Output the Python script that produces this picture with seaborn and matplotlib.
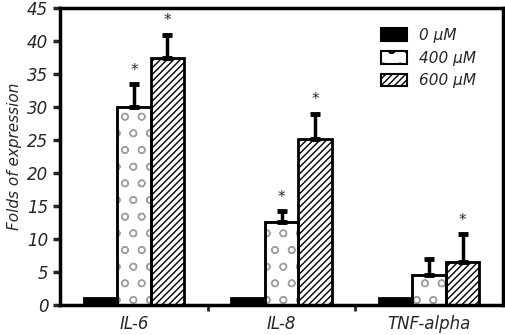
import pandas as pd
import matplotlib.pyplot as plt
import seaborn as sns

sns.set_style("white")
plt.rcParams["font.family"] = ["DejaVu Sans"]
plt.rcParams["hatch.linewidth"] = 1.0

genes = ["IL-6", "IL-8", "TNF-alpha"]
doses = ["0 \u03bcM", "400 \u03bcM", "600 \u03bcM"]
vals_0 = [1.0, 1.0, 1.0]
vals_400 = [30.0, 12.5, 4.5]
vals_600 = [37.5, 25.2, 6.5]
err_0 = [0.0, 0.0, 0.0]
err_400 = [3.5, 1.7, 2.5]
err_600 = [3.5, 3.8, 4.2]
signif_400 = [True, True, False]
signif_600 = [True, True, True]


def main():
    df = pd.DataFrame({
        "gene": genes * 3,
        "dose": [d for d in doses for _ in genes],
        "value": vals_0 + vals_400 + vals_600,
        "err": err_0 + err_400 + err_600,
        "sig": [False] * 3 + signif_400 + signif_600,
    })

    fig = plt.figure(figsize=(5.06, 3.35), dpi=100)
    ax = fig.add_axes([0.119, 0.09, 0.875, 0.885])

    sns.barplot(data=df, x="gene", y="value", hue="dose", order=genes,
                hue_order=doses, palette=["black", "white", "white"],
                edgecolor="black", linewidth=2, width=0.68, errorbar=None,
                saturation=1, ax=ax)

    bar_conts = list(ax.containers)
    hatches = ["", "o", "/////"]
    for i, cont in enumerate(bar_conts):
        for j, p in enumerate(cont.patches):
            p.set_hatch(hatches[i])
            row = df[(df["dose"] == doses[i]) & (df["gene"] == genes[j])].iloc[0]
            xc = p.get_x() + p.get_width() / 2
            top = p.get_height()
            if row["err"] > 0:
                ax.errorbar(xc, top, yerr=[[0], [row["err"]]], fmt="none",
                            ecolor="black", elinewidth=2.5, capsize=3.5,
                            capthick=3.5, zorder=3)
            if row["sig"]:
                ax.text(xc, top + row["err"] + 1.0, "*", ha="center",
                        va="bottom", fontsize=11)
    # lighter circles on the 400 uM bars, black outline on top
    for p in bar_conts[1].patches:
        p.set_edgecolor("#a0a0a0")
        ax.add_patch(plt.Rectangle((p.get_x(), 0), p.get_width(), p.get_height(),
                                   fill=False, edgecolor="black", linewidth=2,
                                   zorder=2.5))

    ax.set_xlim(-0.5, 2.5)
    ax.set_ylim(0, 45)
    ax.set_yticks(range(0, 46, 5))
    ax.set_xticks([0.5, 1.5])
    ax.set_xticklabels([])
    for j, g in enumerate(genes):
        ax.text(j, -1.6, g, ha="center", va="top", fontsize=12, style="italic")
    ax.tick_params(axis="y", direction="out", length=5, width=2.5,
                   labelsize=12, left=True)
    ax.tick_params(axis="x", direction="out", length=4, width=2, bottom=True)
    for lab in ax.get_yticklabels():
        lab.set_fontstyle("italic")
    for s in ax.spines.values():
        s.set_linewidth(2.5)
        s.set_color("black")
    ax.set_xlabel("")
    ax.set_ylabel("Folds of expression", fontsize=11, style="italic")

    leg = ax.legend(loc="upper right", frameon=False, fontsize=11,
                    handlelength=1.7, handleheight=0.9,
                    bbox_to_anchor=(0.97, 0.98))
    leg_hatch = ["", "o", "/////"]
    for h, hc in zip(leg.legend_handles, leg_hatch):
        h.set_hatch(hc)
        h.set_edgecolor("black")
        h.set_linewidth(1.5)
    for t in leg.get_texts():
        t.set_fontstyle("italic")

    plt.savefig("out.png", dpi=100)


if __name__ == "__main__":
    main()
